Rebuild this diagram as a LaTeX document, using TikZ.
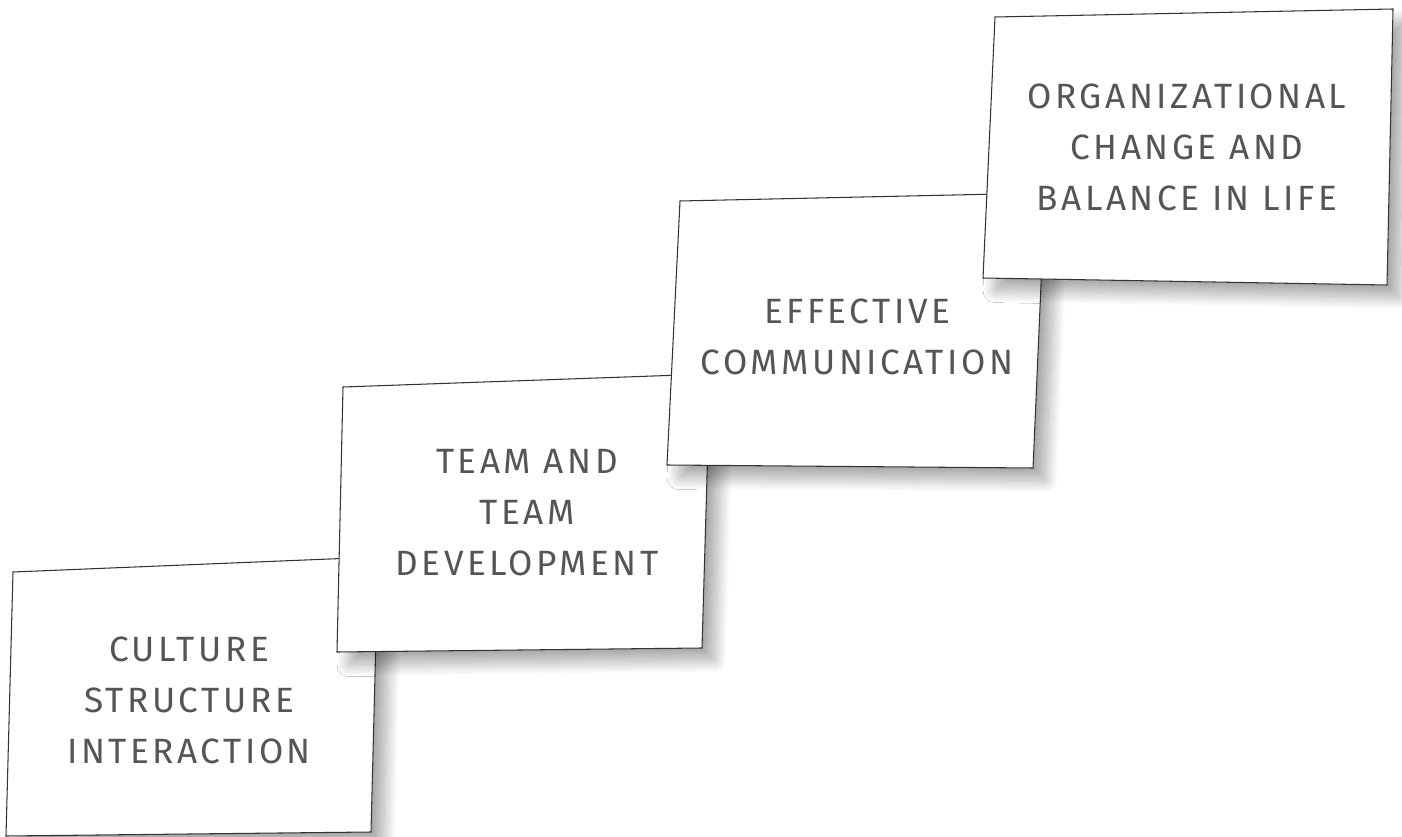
\documentclass[tikz,border=0pt]{standalone}
\usepackage{fontspec}
\setmainfont[LetterSpace=10]{Fira Sans}
\usetikzlibrary{shadows.blur}
\definecolor{inkgray}{HTML}{555555}

\begin{document}
\begin{tikzpicture}[x=0.02cm,y=-0.02cm,
  card/.style={draw=black!80, line width=0.6pt, fill=white,
    blur shadow={shadow xshift=7pt, shadow yshift=-7pt, shadow blur radius=7pt,
      shadow blur steps=25, shadow opacity=35}},
  cardtext/.style={text=inkgray, align=center, inner sep=0pt,
    font=\fontsize{20}{29}\selectfont}]
\useasboundingbox (0,0) rectangle (1402,837);

% Draw first card
\draw[card] (13,572) -- (378,557) -- (371,832) -- (6,836) -- cycle;
\node[cardtext] (culture) at (189,700) {CULTURE\\STRUCTURE\\INTERACTION};

% Draw second card
\draw[card] (343,387) -- (710,374) -- (702,648) -- (337,652) -- cycle;
\node[cardtext] (team) at (527,513) {TEAM AND\\TEAM\\DEVELOPMENT};

% Draw third card
\draw[card] (680,201) -- (1045,193) -- (1033,468) -- (667,465) -- cycle;
\node[cardtext] (comm) at (857,337) {EFFECTIVE\\COMMUNICATION};

% Draw fourth card
\draw[card] (995,17) -- (1393,9) -- (1387,285) -- (983,278) -- cycle;
\node[cardtext] (change) at (1187,147) {ORGANIZATIONAL\\CHANGE AND\\BALANCE IN LIFE};
\end{tikzpicture}
\end{document}
